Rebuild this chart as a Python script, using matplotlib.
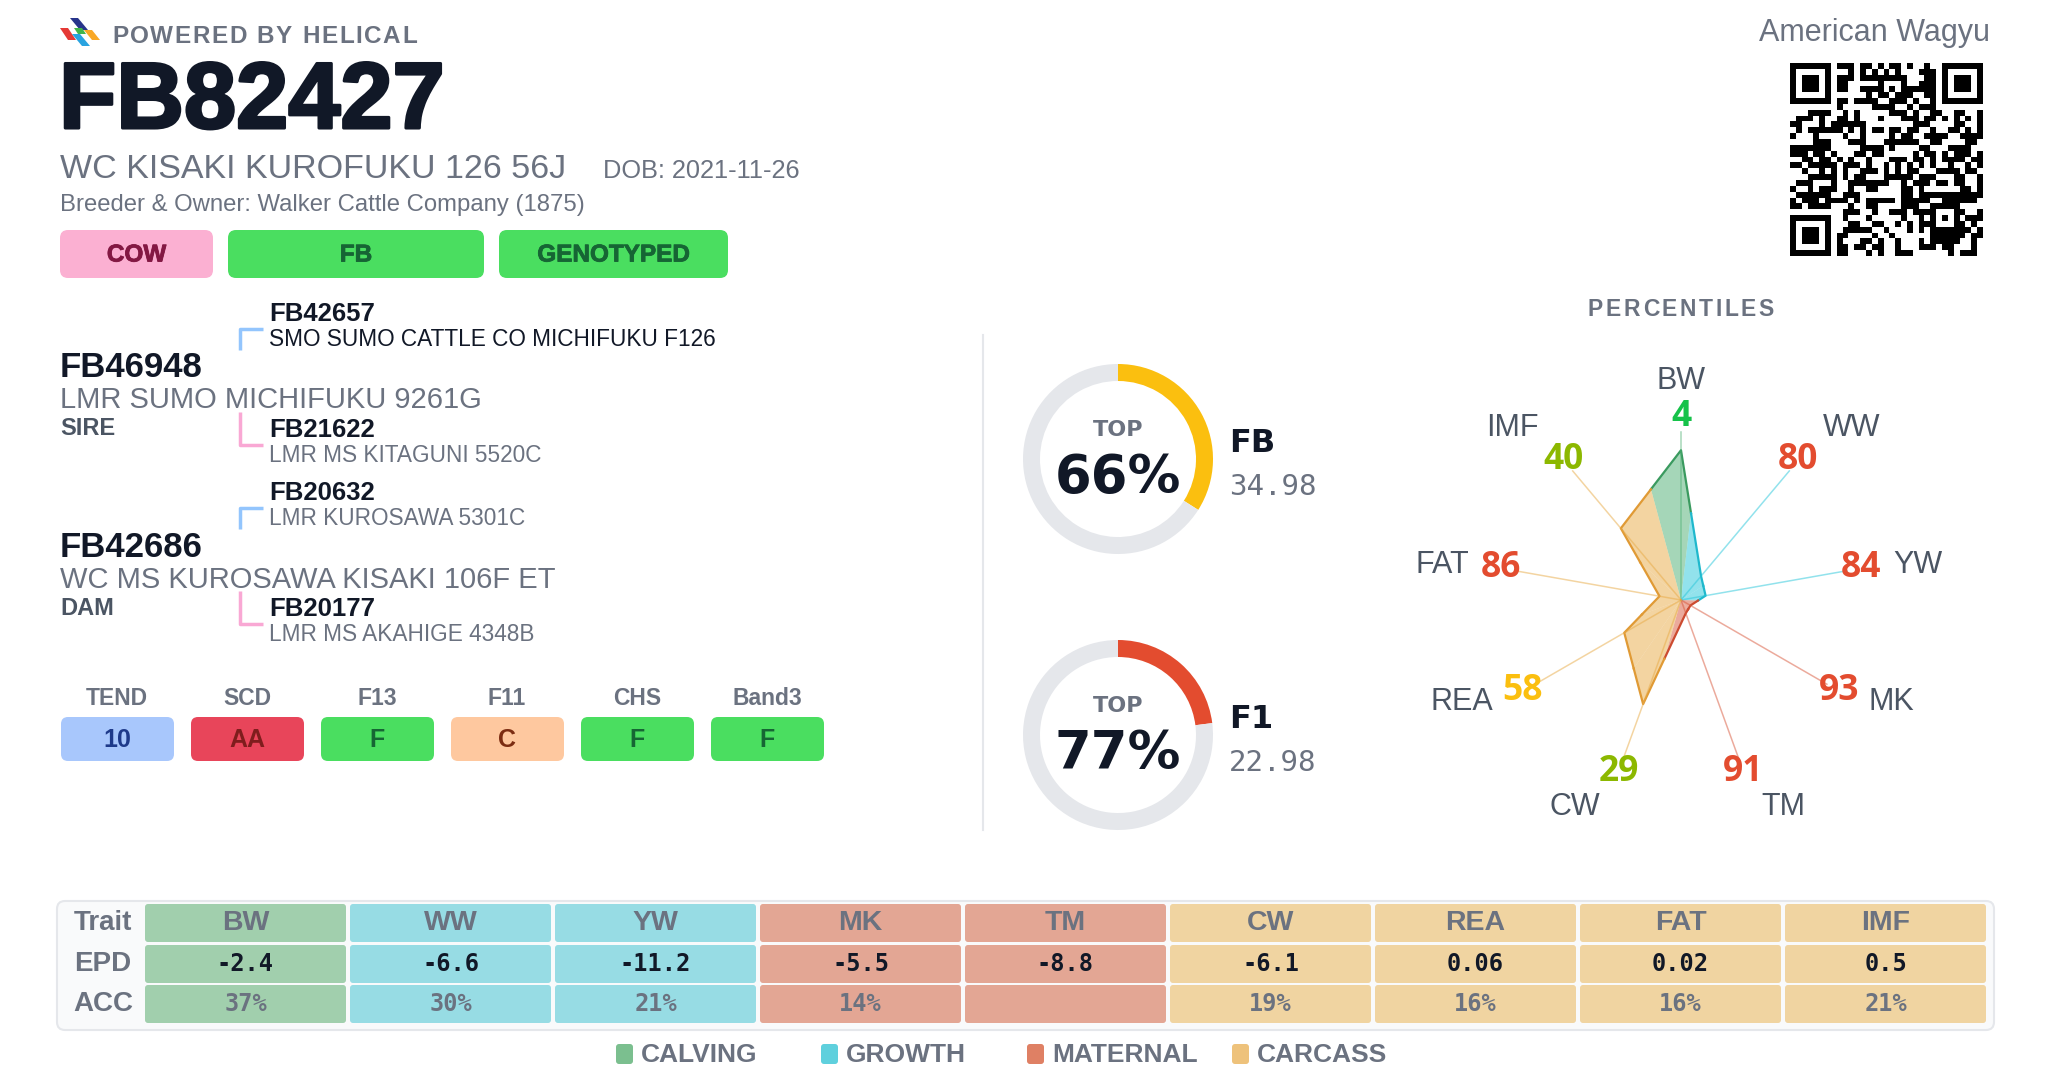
import hashlib
import matplotlib
matplotlib.use('Agg')
import matplotlib.pyplot as plt
import matplotlib.patheffects as pe
from matplotlib.patches import FancyBboxPatch, Polygon
from matplotlib.font_manager import FontProperties, findfont
from matplotlib.ft2font import FT2Font
import numpy as np

W, H = 2048, 1075

# ---- card data ----
reg_id = 'FB82427'
reg_name = 'WC KISAKI KUROFUKU 126 56J'
dob = '2021-11-26'
breeder = 'Walker Cattle Company (1875)'
breed = 'American Wagyu'
badges = ['COW', 'FB', 'GENOTYPED']

sire_id, sire_name = 'FB46948', 'LMR SUMO MICHIFUKU 9261G'
dam_id, dam_name = 'FB42686', 'WC MS KUROSAWA KISAKI 106F ET'
grand_ids = ['FB42657', 'FB21622', 'FB20632', 'FB20177']
grand_names = ['SMO SUMO CATTLE CO MICHIFUKU F126', 'LMR MS KITAGUNI 5520C',
               'LMR KUROSAWA 5301C', 'LMR MS AKAHIGE 4348B']

tests = ['TEND', 'SCD', 'F13', 'F11', 'CHS', 'Band3']
test_vals = ['10', 'AA', 'F', 'C', 'F', 'F']

index_names = ['FB', 'F1']
index_vals = ['34.98', '22.98']
index_top = [66, 77]

traits = ['BW', 'WW', 'YW', 'MK', 'TM', 'CW', 'REA', 'FAT', 'IMF']
groups = ['CALVING', 'GROWTH', 'GROWTH', 'MATERNAL', 'MATERNAL',
          'CARCASS', 'CARCASS', 'CARCASS', 'CARCASS']
percentiles = [4, 80, 84, 93, 91, 29, 58, 86, 40]
epd = ['-2.4', '-6.6', '-11.2', '-5.5', '-8.8', '-6.1', '0.06', '0.02', '0.5']
acc = ['37%', '30%', '21%', '14%', '', '19%', '16%', '16%', '21%']
legend_groups = ['CALVING', 'GROWTH', 'MATERNAL', 'CARCASS']

# ---- style ----
DARK = '#111827'
GRAY = '#6b7280'
SANS = 'Liberation Sans'
MONO = 'DejaVu Sans Mono'

group_base = {'CALVING': '#4caf72', 'GROWTH': '#26c6da', 'MATERNAL': '#d9573a', 'CARCASS': '#e8aa45'}
group_edge = {'CALVING': '#3a9a5f', 'GROWTH': '#1fb8cc', 'MATERNAL': '#cc4b30', 'CARCASS': '#e09a35'}
group_cell = {'CALVING': '#a1cfad', 'GROWTH': '#97dce4', 'MATERNAL': '#e3a694', 'CARCASS': '#f0d4a1'}
group_swatch = {'CALVING': '#7bbf8f', 'GROWTH': '#5fd0dd', 'MATERNAL': '#df8064', 'CARCASS': '#eec27b'}

badge_style = {'COW': ('#fbb0d2', '#831843'), 'FB': ('#4ade60', '#166534'),
               'GENOTYPED': ('#4ade60', '#166534')}
test_style = {'10': ('#a8c7fc', '#1e3a8a'), 'AA': ('#e8455a', '#7f1d1d'),
              'F': ('#4ade60', '#166534'), 'C': ('#fec89f', '#7c2d12')}


def pct_color(p):
    if p < 25:
        return '#16c24a'
    if p < 50:
        return '#8cb800'
    if p < 75:
        return '#fbbf0f'
    return '#e34c2f'


fig = plt.figure(figsize=(W / 100, H / 100), dpi=100)
ax = fig.add_axes([0, 0, 1, 1])
ax.set_xlim(0, W)
ax.set_ylim(H, 0)
ax.axis('off')


def rbox(x, y, w, h, fc, r=8, ec='none', lw=0):
    ax.add_patch(FancyBboxPatch((x, y), w, h, boxstyle=f'round,pad=0,rounding_size={r}',
                                fc=fc, ec=ec, lw=lw))


def spaced_text(x, y, s, size, spacing, color, ha='left'):
    # draw bold text char by char to imitate css letter-spacing
    fp = FontProperties(family=SANS, weight='bold', size=size)
    font = FT2Font(findfont(fp))
    font.set_size(size, 100)
    adv = [font.load_char(ord(c)).linearHoriAdvance / 65536 for c in s]
    total = sum(adv) + spacing * (len(s) - 1)
    cx = x - total / 2 if ha == 'center' else x
    for c, a in zip(s, adv):
        ax.text(cx, y, c, fontproperties=fp, color=color, va='baseline')
        cx += a + spacing


# ---- header ----
logo = [([(70, 18), (78, 18), (88, 30), (80, 30)], '#27348b'),
        ([(60, 28), (68, 28), (76, 40), (68, 40)], '#e53935'),
        ([(84, 30), (92, 30), (100, 40), (92, 40)], '#f9a825'),
        ([(72, 34), (80, 34), (90, 46), (82, 46)], '#29a3e0'),
        ([(74, 28), (82, 28), (86, 34), (78, 34)], '#43b649')]
for pts, c in logo:
    ax.add_patch(Polygon(pts, closed=True, fc=c, ec='none'))
spaced_text(112, 43, 'POWERED BY HELICAL', 17.5, 1.6, GRAY)
ax.text(59, 128, reg_id, fontsize=67.5, fontweight='bold', color=DARK, family=SANS, va='baseline',
        path_effects=[pe.withStroke(linewidth=2.2, foreground=DARK)])
ax.text(60, 178, reg_name, fontsize=24.5, color=GRAY, family=SANS, va='baseline')
ax.text(603, 178, f'DOB: {dob}', fontsize=18.3, color=GRAY, family=SANS, va='baseline')
ax.text(60, 211, f'Breeder & Owner: {breeder}', fontsize=17.2, color=GRAY, family=SANS,
        va='baseline')

badge_w = [153, 256, 229]
bx = 60
for b, w in zip(badges, badge_w):
    fc, tc = badge_style[b]
    rbox(bx, 230, w, 48, fc, r=8)
    ax.text(bx + w / 2, 255, b, fontsize=17.5, fontweight='bold', color=tc, family=SANS,
            ha='center', va='center', path_effects=[pe.withStroke(linewidth=0.6, foreground=tc)])
    bx += w + 15

ax.text(1990, 33, breed, fontsize=22, color=GRAY, family=SANS, ha='right', va='center')

# QR-like block (decorative, deterministic bits)
n = 33
bits = np.unpackbits(np.frombuffer(b''.join(hashlib.sha256((reg_id + str(k)).encode()).digest()
                                             for k in range(6)), dtype=np.uint8))
qr = bits[:n * n].reshape(n, n).astype(float)
for r0, c0 in [(0, 0), (0, n - 7), (n - 7, 0)]:
    qr[max(r0 - 1, 0):r0 + 8, max(c0 - 1, 0):c0 + 8] = 0
    qr[r0:r0 + 7, c0:c0 + 7] = 1
    qr[r0 + 1:r0 + 6, c0 + 1:c0 + 6] = 0
    qr[r0 + 2:r0 + 5, c0 + 2:c0 + 5] = 1
qr[24:29, 24:29] = 1
qr[25:28, 25:28] = 0
qr[26, 26] = 1
ax.imshow(qr, cmap='gray_r', extent=(1790, 1983, 256, 63), interpolation='nearest',
          aspect='auto', zorder=2)

# ---- pedigree ----
ped_y = [321, 437, 500, 616]          # grandparent id baselines
for i, (gid, gname, y) in enumerate(zip(grand_ids, grand_names, ped_y)):
    ax.text(269, y, gid, fontsize=18.5, fontweight='bold', color=DARK, family=SANS, va='baseline')
    ax.text(269, y + 25, gname, fontsize=16.3, color=DARK if i == 0 else GRAY, family=SANS,
            va='baseline')
    if i % 2 == 0:
        ax.plot([263, 240, 240], [y + 8, y + 8, y + 29], color='#93c5fd', lw=2.5,
                solid_capstyle='butt')
    else:
        ax.plot([240, 240, 263], [y - 25, y + 8, y + 8], color='#f9a8d4', lw=2.5,
                solid_capstyle='butt')

for pid, pname, role, y in [(sire_id, sire_name, 'SIRE', 377), (dam_id, dam_name, 'DAM', 557)]:
    ax.text(60, y, pid, fontsize=25, fontweight='bold', color=DARK, family=SANS, va='baseline')
    ax.text(60, y + 31, pname, fontsize=21, color=GRAY, family=SANS, va='baseline')
    ax.text(60, y + 58, role, fontsize=17, fontweight='bold', color='#4b5563', family=SANS,
            va='baseline')

# ---- genetic tests ----
for i, (t, v) in enumerate(zip(tests, test_vals)):
    x = 61 + i * 130
    fc, tc = test_style[v]
    ax.text(x + 56, 705, t, fontsize=16.5, fontweight='bold', color=GRAY, family=SANS,
            ha='center', va='baseline')
    rbox(x, 717, 113, 44, fc, r=7)
    ax.text(x + 56, 740, v, fontsize=18, fontweight='bold', color=tc, family=SANS,
            ha='center', va='center')

ax.plot([983, 983], [335, 830], color='#e5e7eb', lw=1.5)

# ---- index donuts ----
for i, (name, val, top) in enumerate(zip(index_names, index_vals, index_top)):
    cy = 459 + i * 276
    axd = fig.add_axes([(1118 - 95) / W, 1 - (cy + 95) / H, 190 / W, 190 / H])
    axd.pie([100 - top, top], colors=[pct_color(top), '#e5e7eb'], startangle=90,
            counterclock=False, radius=1, wedgeprops=dict(width=17 / 95, linewidth=0))
    axd.set_xlim(-1, 1)
    axd.set_ylim(-1, 1)
    ax.text(1118, cy - 23, 'TOP', fontsize=16, fontweight='bold', color=GRAY,
            family='DejaVu Sans', ha='center', va='baseline')
    ax.text(1118, cy + 34, f'{top}%', fontsize=38, fontweight='bold', color=DARK,
            family='DejaVu Sans', ha='center', va='baseline')
    ax.text(1229, cy - 7, name, fontsize=23, fontweight='bold', color=DARK,
            family='DejaVu Sans', va='baseline')
    ax.text(1229, cy + 36, val, fontsize=21, color=GRAY, family=MONO, va='baseline')

# ---- percentile radar ----
spaced_text(1681, 316, 'PERCENTILES', 16.5, 2.6, GRAY, ha='center')
L = 140
S = L * 1.56
axr = fig.add_axes([(1681 - S) / W, (H - 600 - S) / H, 2 * S / W, 2 * S / H])
axr.set_xlim(-L, L)
axr.set_ylim(-L, L)
axr.axis('off')

ang = np.deg2rad(90 - 40 * np.arange(len(traits)))
vals = 100 - np.array(percentiles)
px, py = vals * np.cos(ang), vals * np.sin(ang)
k = len(traits)
for i in range(k):
    g = groups[i]
    mpx, mpy = (px[i - 1] + px[i]) / 2, (py[i - 1] + py[i]) / 2
    j = (i + 1) % k
    mnx, mny = (px[i] + px[j]) / 2, (py[i] + py[j]) / 2
    axr.fill([0, mpx, px[i], mnx], [0, mpy, py[i], mny], color=group_base[g], alpha=0.5, lw=0)
    axr.plot([mpx, px[i], mnx], [mpy, py[i], mny], color=group_edge[g], lw=1.6)
for i in range(k):
    g = groups[i]
    c, s = np.cos(ang[i]), np.sin(ang[i])
    axr.plot([0, 108 * c], [0, 108 * s], color=group_base[g], alpha=0.5, lw=1.1)
    axr.text(117 * c, 117 * s, str(percentiles[i]), fontsize=25.5,
             fontweight='bold', color=pct_color(percentiles[i]), family='Open Sans',
             ha='center', va='center')
    ha = 'left' if c > 0.1 else ('right' if c < -0.1 else 'center')
    va = 'bottom' if s > 0.5 else ('top' if s < -0.6 else 'center')
    shift = 7 if c > 0.1 else (-7 if c < -0.1 else 0)
    axr.text(131 * c + shift, 131 * s, traits[i], fontsize=22, color='#4b5563', family=SANS,
             ha=ha, va=va)

# ---- EPD table ----
rbox(57, 901, 1937, 129, '#f9fafb', r=8, ec='#e5e7eb', lw=1.5)
row_y = [923, 964, 1004]
for lab, y in zip(['Trait', 'EPD', 'ACC'], row_y):
    ax.text(103, y, lab, fontsize=20, fontweight='bold', color=GRAY, family=SANS,
            ha='center', va='center')
for i, t in enumerate(traits):
    x = 145 + i * 205
    fc = group_cell[groups[i]]
    for y in row_y:
        rbox(x, y - 19, 201, 38, fc, r=3)
    xc = x + 100.5
    ax.text(xc, row_y[0], t, fontsize=20.5, fontweight='bold', color=GRAY, family=SANS,
            ha='center', va='center')
    ax.text(xc, row_y[1], epd[i], fontsize=17, fontweight='bold', color=DARK, family=MONO,
            ha='center', va='center')
    ax.text(xc, row_y[2], acc[i], fontsize=17, fontweight='bold', color=GRAY, family=MONO,
            ha='center', va='center')

lx = [616, 821, 1027, 1232]
for g, x in zip(legend_groups, lx):
    rbox(x, 1044, 17, 20, group_swatch[g], r=3)
    ax.text(x + 25, 1055, g, fontsize=19, fontweight='bold', color=GRAY, family=SANS,
            va='center')

fig.savefig('out.png', dpi=100, facecolor='white')
